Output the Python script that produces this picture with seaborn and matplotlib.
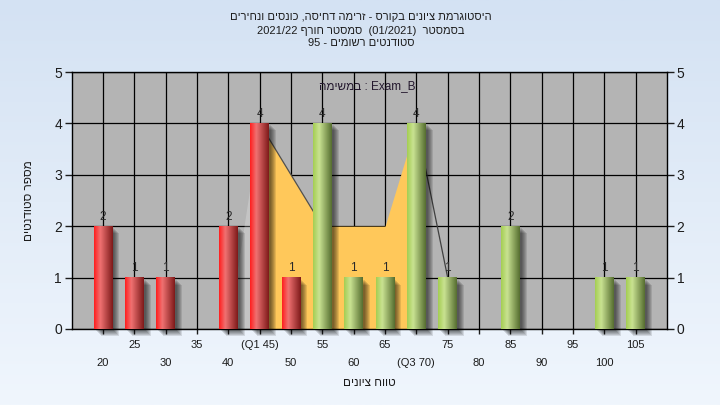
import re
import numpy as np
import pandas as pd
import matplotlib
matplotlib.use("Agg")
import matplotlib.pyplot as plt
import matplotlib.transforms as mtransforms
from matplotlib.patches import Rectangle
from matplotlib.colors import LinearSegmentedColormap, to_rgb
import seaborn as sns

# ---------------- data ----------------
grade_bins = [20, 25, 30, 35, 40, 45, 50, 55, 60, 65, 70, 75, 80, 85, 90, 95, 100, 105]
bin_labels = ["20", "25", "30", "35", "40", "(Q1 45)", "50", "55", "60", "65",
              "(Q3 70)", "75", "80", "85", "90", "95", "100", "105"]
student_counts = [2, 1, 1, 0, 2, 4, 1, 4, 1, 1, 4, 1, 0, 2, 0, 0, 1, 1]
bar_group = ["low"] * 7 + ["high"] * 11
area_bins = [40, 45, 50, 55, 60, 65, 70, 75]
area_values = [0, 4, 3, 2, 2, 2, 4, 1]
q1_bin, q3_bin = 45, 70

title_lines = ["היסטוגרמת ציונים בקורס - זרימה דחיסה, כונסים ונחירים",
               "בסמסטר  (01/2021)  סמסטר חורף 2021/22",
               "סטודנטים רשומים - 95"]
list_word = "במשימה"
list_value = "Exam_B"
x_title = "טווח ציונים"
y_title = "מספר סטודנטים"


def visual(s):
    """Simple RTL -> visual order conversion for matplotlib (no bidi support)."""
    r = s[::-1]
    mirror = {"(": ")", ")": "("}
    r = "".join(mirror.get(c, c) for c in r)
    return re.sub(r"[0-9A-Za-z_][0-9A-Za-z_/.]*", lambda m: m.group(0)[::-1], r)


sns.set_style("ticks")
plt.rcParams["font.family"] = ["Liberation Sans", "DejaVu Sans"]
text_col = "#1c1c1c"

fig = plt.figure(figsize=(7.2, 4.05), dpi=100)

# background gradient
bg = fig.add_axes([0, 0, 1, 1], zorder=-10)
bg_cmap = LinearSegmentedColormap.from_list("bg", ["#D4E2F3", "#F0F6FD"])
bg.imshow(np.linspace(0, 1, 256)[:, None], aspect="auto", cmap=bg_cmap,
          extent=[0, 1, 0, 1], origin="upper")
bg.axis("off")

ax = fig.add_axes([71.7 / 720, 1 - 329 / 405, (667 - 71.7) / 720, (329 - 72) / 405])
ax.set_facecolor("#B4B4B4")

df = pd.DataFrame({"grade": bin_labels, "count": student_counts, "group": bar_group})
sns.barplot(data=df, x="grade", y="count", hue="group", order=bin_labels,
            palette={"low": "#E53030", "high": "#98C050"}, width=0.6,
            dodge=False, legend=False, saturation=1, ax=ax)

# area between quartiles (behind bars)
pos = {g: i for i, g in enumerate(grade_bins)}
ax_x = np.array([pos[g] for g in area_bins], dtype=float)
ax_y = np.array(area_values, dtype=float)
i_q1 = area_bins.index(q1_bin)
i_q3 = area_bins.index(q3_bin)
ax.fill_between(ax_x[:i_q1 + 1], 0, ax_y[:i_q1 + 1], color="white", alpha=0.22,
                lw=0, zorder=1)
ax.fill_between(ax_x[i_q1:i_q3 + 1], 0, ax_y[i_q1:i_q3 + 1], color="#FFC85A",
                lw=0, zorder=1.2)
ax.plot(ax_x[i_q1:i_q1 + 3], ax_y[i_q1:i_q1 + 3], color="#505050", lw=0.9, zorder=1.4)
ax.plot(ax_x[i_q3:], ax_y[i_q3:], color="#404040", lw=0.9, zorder=1.4)

# cylinder-like gradient bars with shadows
def grad_img(c0, c1, c2, n=64):
    t = np.linspace(0, 1, n)
    c0, c1, c2 = map(np.array, map(to_rgb, (c0, c1, c2)))
    out = np.empty((1, n, 3))
    for k, tt in enumerate(t):
        if tt < 0.33:
            f = tt / 0.33
            out[0, k] = c0 * (1 - f) + c1 * f
        else:
            f = (tt - 0.33) / 0.67
            out[0, k] = c1 * (1 - f) + c2 * f
    return out

red_img = grad_img("#FF1E1E", "#F07272", "#7E1A1A")
green_img = grad_img("#A4CE52", "#C9E292", "#566E30")

for patch, v, grp in zip(ax.patches, student_counts, bar_group):
    x, w, h = patch.get_x(), patch.get_width(), patch.get_height()
    patch.set_visible(False)
    if v <= 0:
        continue
    for k in range(2, 8):
        tr = ax.transData + mtransforms.ScaledTranslation(k / 100, -k / 100, fig.dpi_scale_trans)
        ax.add_patch(Rectangle((x, 0), w, h, transform=tr, color="black",
                               alpha=0.11, lw=0, zorder=2, clip_on=False))
    img = red_img if grp == "low" else green_img
    ax.imshow(img, extent=[x, x + w, 0, h], aspect="auto", zorder=3,
              interpolation="bilinear")
    ax.annotate(str(v), (x + w / 2, h), xytext=(0, 2.5), textcoords="offset points",
                ha="center", va="bottom", fontsize=8.5, color="#2a2a2a", zorder=5)

ax.set_xlim(-1, 18)
ax.set_ylim(0, 5)
ax.set_aspect("auto")

# grid & spines
ax.set_axisbelow(True)
ax.grid(True, color="black", lw=0.9)
for s in ax.spines.values():
    s.set_color("black")
    s.set_linewidth(1)
    s.set_visible(True)

ax.set_yticks(range(6))
ax.tick_params(axis="y", direction="out", length=5, width=1, labelsize=10,
               left=True, right=True, labelleft=True, labelright=True,
               colors=text_col, pad=2)
ax.set_xticks(range(len(bin_labels)))
stag = [("\n" + lab) if i % 2 == 0 else lab for i, lab in enumerate(bin_labels)]
ax.set_xticklabels(stag)
ax.tick_params(axis="x", direction="out", length=3.5, width=1, labelsize=8,
               colors=text_col, pad=4.5)
for t in ax.get_xticklabels():
    t.set_linespacing(1.95)

ax.set_xlabel(visual(x_title), fontsize=8.5, color=text_col)
ax.xaxis.set_label_coords(0.5, -0.185)
ax.set_ylabel(visual(y_title), fontsize=8.5, color=text_col)
ax.yaxis.set_label_coords(-0.062, 0.5)

# titles
for yy, line in zip([17, 30.5, 43], title_lines):
    fig.text(361 / 720, 1 - yy / 405, visual(line), ha="center", va="center",
             fontsize=8, color=text_col)

ax.text(0.497, 1 - (86 - 72) / 257, list_word[::-1] + " : " + list_value,
        transform=ax.transAxes, ha="center", va="center", fontsize=8.5,
        color="#24182e", zorder=6)

fig.savefig("out.png", dpi=100)
